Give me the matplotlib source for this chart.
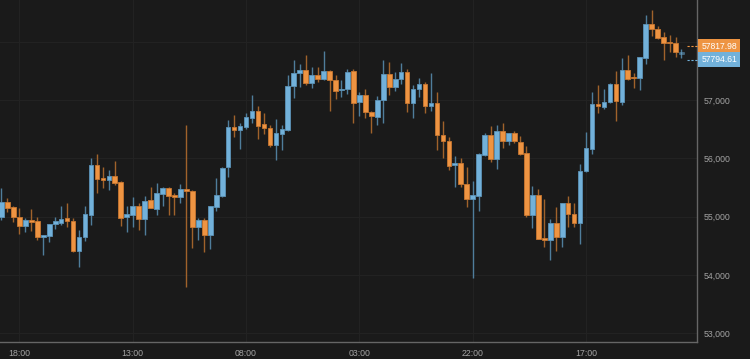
import matplotlib
matplotlib.use("Agg")
import matplotlib.pyplot as plt
import matplotlib.transforms as mtransforms
import numpy as np

# ---------------- data (hourly candles, first candle = 15:00) ----------------
opens = [54988, 55256, 55160, 55000, 54834, 54937, 54930, 54656, 54673, 54868,
         54891, 54971, 54930, 54405, 54651, 55033, 55880, 55662, 55628, 55697,
         55590, 54999, 55033, 55182, 54964, 55280, 55136, 55393, 55491, 55366,
         55332, 55479, 55445, 54827, 54942, 54690, 55170, 55354, 55856, 56532,
         56480, 56542, 56697, 56811, 56583, 56525, 56223, 56422, 56480, 57245,
         57458, 57515, 57287, 57424, 57355, 57497, 57343, 57172, 57184, 57497,
         56961, 57081, 56800, 56714, 57000, 57441, 57223, 57355, 57475, 56944,
         57189, 57269, 56892, 56949, 56400, 56297, 55885, 55915, 55560, 55307,
         55354, 56057, 56400, 55993, 56474, 56292, 56429, 56285, 56091, 55023,
         55366, 54639, 54599, 54886, 54651, 55229, 55050, 54896, 55788, 56160,
         56937, 56880, 56966, 57269, 56971, 57515, 57400, 57372, 57726, 58309,
         58218, 58081, 58000, 57978, 57795]
closes = [55256, 55153, 54999, 54834, 54942, 54913, 54656, 54680, 54874, 54920,
          54964, 54920, 54405, 54656, 55045, 55880, 55650, 55628, 55697, 55582,
          54982, 55040, 55182, 54964, 55273, 55148, 55400, 55491, 55354, 55337,
          55479, 55434, 54827, 54942, 54690, 55182, 55376, 55839, 56542, 56480,
          56554, 56703, 56811, 56554, 56520, 56223, 56439, 56498, 57245, 57463,
          57515, 57287, 57424, 57355, 57497, 57343, 57160, 57194, 57485, 56944,
          57081, 56794, 56726, 57005, 57441, 57223, 57360, 57475, 56954, 57194,
          57269, 56892, 56949, 56395, 56292, 55868, 55915, 55560, 55307, 55366,
          56069, 56400, 55993, 56474, 56292, 56429, 56292, 56074, 55023, 55366,
          54621, 54599, 54886, 54651, 55229, 55050, 54896, 55782, 56172, 56937,
          56902, 56971, 57269, 56983, 57515, 57360, 57377, 57732, 58309, 58213,
          58069, 57983, 57978, 57818, 57818]
highs = [55496, 55325, 55187, 55143, 54976, 55131, 54988, 54690, 54879, 54988,
         55182, 55234, 54971, 54771, 55182, 56011, 56074, 55856, 55800, 55949,
         55610, 55182, 55331, 55229, 55349, 55503, 55577, 55500, 55513, 55410,
         55554, 56571, 55450, 54976, 54971, 55190, 55668, 55850, 56657, 56743,
         56611, 56777, 57081, 56897, 56772, 56577, 56679, 56571, 57434, 57686,
         57618, 57772, 57571, 57561, 57840, 57510, 57424, 57343, 57527, 57532,
         57132, 57189, 56810, 57074, 57681, 57647, 57475, 57630, 57527, 57257,
         57383, 57314, 57458, 57132, 56640, 56366, 56045, 56000, 55856, 55606,
         56086, 56429, 56554, 56566, 56606, 56440, 56468, 56383, 56216, 55525,
         55474, 55302, 54954, 55160, 55240, 55359, 55239, 55902, 56446, 57132,
         57257, 57189, 57292, 57497, 57715, 57772, 57458, 57740, 58458, 58544,
         58264, 58161, 58115, 58075, 57870]
lows = [54942, 55074, 54913, 54707, 54741, 54759, 54599, 54342, 54565, 54783,
        54856, 54827, 54395, 54136, 54587, 54862, 55410, 55496, 55457, 55547,
        54839, 54731, 54827, 54771, 54680, 55140, 55023, 55187, 55023, 55023,
        55239, 53798, 54467, 54599, 54398, 54450, 55096, 55331, 55685, 56371,
        56165, 56498, 56600, 56331, 56417, 56199, 55971, 56148, 56470, 57040,
        57228, 57252, 57201, 57314, 57345, 56817, 57022, 57057, 57098, 56611,
        56731, 56697, 56439, 56577, 56611, 57086, 57160, 57269, 56789, 56686,
        57052, 56782, 56817, 56137, 56011, 55794, 55513, 55513, 55170, 53947,
        55102, 56045, 55937, 55817, 56182, 56233, 56257, 56052, 54988, 54810,
        54610, 54484, 54256, 54416, 54479, 54827, 54817, 54531, 55765, 56079,
        56782, 56841, 56955, 56640, 56914, 57343, 57201, 57166, 57623, 58098,
        58051, 57686, 57818, 57743, 57715]

tick_idx = [3, 22, 41, 60, 79, 98]
tick_labels = ["18:00", "13:00", "08:00", "03:00", "22:00", "17:00"]
y_ticks = [53000, 54000, 55000, 56000, 57000, 58000]

last_price = 57817.98
bid_price = 57794.61

# ---------------- style ----------------
BG = "#1a1a1a"
UP_FACE, UP_EDGE, UP_WICK = "#72b1da", "#5c93b8", "#4f7d9b"
DN_FACE, DN_EDGE, DN_WICK = "#ee9442", "#c87731", "#a0622b"
GRID = "#222222"
TXT = "#a3a3a3"
FONT = "Liberation Sans"

o = np.array(opens, float)
c = np.array(closes, float)
h = np.array(highs, float)
l = np.array(lows, float)
x = np.arange(len(o))
up = c >= o

fig = plt.figure(figsize=(7.5, 3.59), dpi=100, facecolor=BG)
ax = fig.add_axes([0, 17 / 359, 697 / 750, 342 / 359])
ax.set_facecolor(BG)

# wicks
ax.vlines(x[up], l[up], h[up], color=UP_WICK, lw=1.0, zorder=2)
ax.vlines(x[~up], l[~up], h[~up], color=DN_WICK, lw=1.0, zorder=2)

# bodies
bottom = np.minimum(o, c)
height = np.maximum(np.abs(c - o), 18)
fc = [UP_FACE if u else DN_FACE for u in up]
ec = [UP_EDGE if u else DN_EDGE for u in up]
bars = ax.bar(x, height, bottom=bottom, width=0.78, color=fc, edgecolor=ec,
              linewidth=0.6, zorder=3)
# last (forming) candle dimmed
bars[-1].set_alpha(0.5)

ax.set_xlim(-0.25, 116.6)
ax.set_ylim(52850, 58715)

ax.set_xticks(tick_idx)
ax.set_xticklabels(tick_labels)
ax.set_yticks(y_ticks)
ax.set_yticklabels([f"{v:,}" for v in y_ticks])
ax.yaxis.tick_right()
ax.tick_params(axis="both", length=0, labelsize=6.3, labelcolor=TXT)
ax.tick_params(axis="y", pad=5)
ax.tick_params(axis="x", pad=5)
for lab in ax.get_xticklabels() + ax.get_yticklabels():
    lab.set_fontfamily(FONT)

ax.grid(True, color=GRID, lw=0.8, zorder=0)
ax.set_axisbelow(True)
for s in ("top", "left"):
    ax.spines[s].set_visible(False)
for s in ("right", "bottom"):
    ax.spines[s].set_color("#666666")
    ax.spines[s].set_linewidth(1.0)

# price labels at the right
mid = (last_price + bid_price) / 2
ytr = ax.get_yaxis_transform()
for price, col, dy in ((last_price, DN_FACE, 4.7), (bid_price, UP_FACE, -4.7)):
    ax.annotate(f"{price:.2f}", xy=(1, mid), xycoords=ytr,
                xytext=(3.0, dy), textcoords="offset points",
                ha="left", va="center", fontsize=6.2, family=FONT,
                color="white",
                bbox=dict(boxstyle="square,pad=0.38", fc=col, ec="none"),
                annotation_clip=False, zorder=10)
    tr = mtransforms.offset_copy(ytr, fig=fig, y=dy, units="points")
    ax.plot([0.986, 1.0], [mid, mid], transform=tr, color=col, lw=0.8,
            ls=(0, (2, 1.5)), clip_on=False, zorder=9)

fig.savefig("out.png", dpi=100, facecolor=BG)
